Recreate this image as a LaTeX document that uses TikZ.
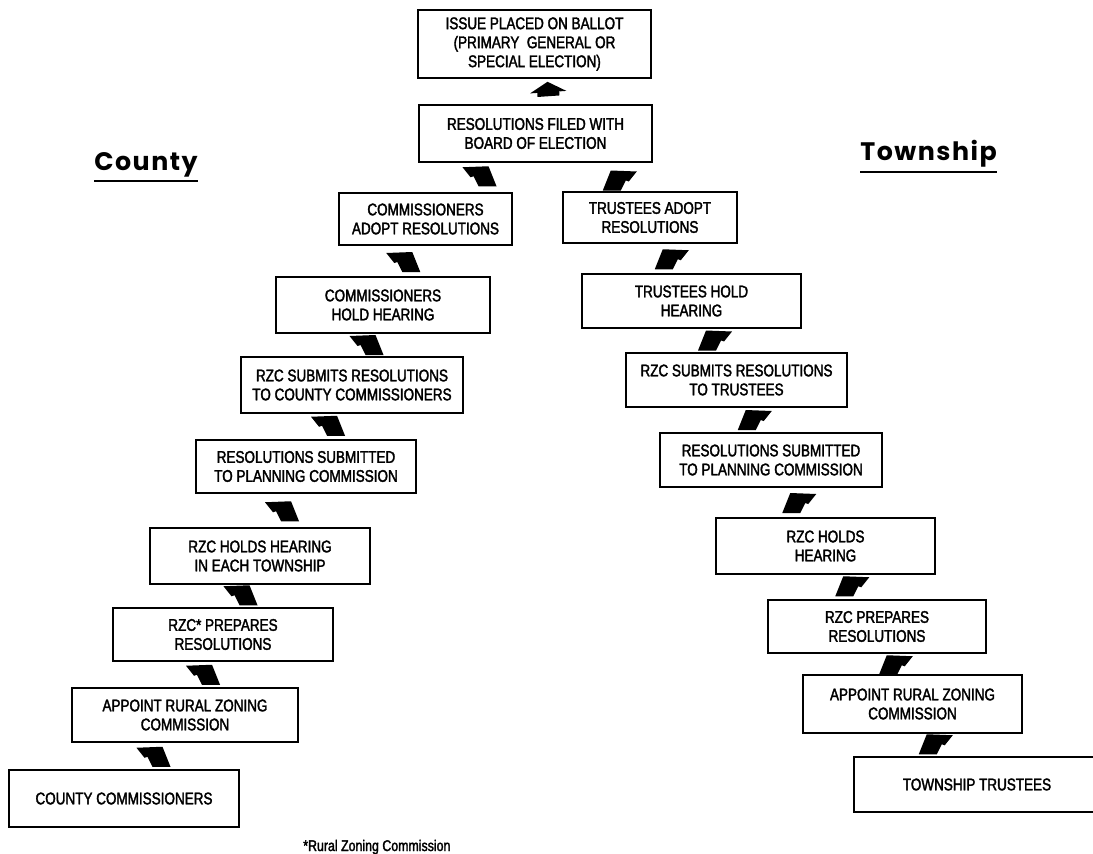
\documentclass[tikz,border=0pt]{standalone}
\usepackage{fontspec}
\newfontfamily\boxfont{Liberation Sans}[FakeStretch=0.8,FakeBold=2]
\newfontfamily\headfont{Poppins}[LetterSpace=6]
\usetikzlibrary{calc,arrows.meta}
\tikzset{
  twedge/.pic={\fill (-16,10) -- (-8,-10) -- (18,-9) -- (10,1) -- (7,0) -- (2,10) -- cycle;},
  cwedge/.pic={\fill (16,10) -- (8,-10) -- (-18,-9) -- (-10,1) -- (-7,0) -- (-2,10) -- cycle;}
}
\begin{document}
\begin{tikzpicture}[x=0.025cm,y=-0.025cm,
    stage/.style={draw,line width=1.1pt,align=center,inner sep=2pt,
      font=\boxfont\fontsize{12}{13.5}\selectfont},
    title/.style={anchor=base west,inner sep=0pt,
      font=\headfont\bfseries\fontsize{18}{20}\selectfont},
    rule/.style={line width=1.2pt},
    ballotarrow/.style={line width=0.55cm,-{Triangle[width=0.9cm,length=0.26cm]}}]
  \useasboundingbox (0,0) rectangle (1093,854);
  \draw[every node/.style=stage]
    (534.5,44) node[minimum width=5.825cm,minimum height=1.7cm] (ballot){ISSUE PLACED ON BALLOT\\(PRIMARY\ \ GENERAL OR\\SPECIAL ELECTION)}
    (535.5,133.5) node[minimum width=5.825cm,minimum height=1.425cm] (filed){RESOLUTIONS FILED WITH\\BOARD OF ELECTION}
    (124,798.5) node[minimum width=5.75cm,minimum height=1.425cm] (c1){COUNTY COMMISSIONERS}
    (185,715) node[minimum width=5.65cm,minimum height=1.35cm] (c2){APPOINT RURAL ZONING\\COMMISSION}
    (223,634.5) node[minimum width=5.5cm,minimum height=1.325cm] (c3){RZC* PREPARES\\RESOLUTIONS}
    (260,556) node[minimum width=5.5cm,minimum height=1.4cm] (c4){RZC HOLDS HEARING\\IN EACH TOWNSHIP}
    (306,466.5) node[minimum width=5.5cm,minimum height=1.325cm] (c5){RESOLUTIONS SUBMITTED\\TO PLANNING COMMISSION}
    (352,385) node[minimum width=5.55cm,minimum height=1.4cm] (c6){RZC SUBMITS RESOLUTIONS\\TO COUNTY COMMISSIONERS}
    (383,305) node[minimum width=5.35cm,minimum height=1.4cm] (c7){COMMISSIONERS\\HOLD HEARING}
    (425.5,219) node[minimum width=4.325cm,minimum height=1.3cm] (c8){COMMISSIONERS\\ADOPT RESOLUTIONS}
    (977,784.5) node[minimum width=6.15cm,minimum height=1.375cm] (t1){TOWNSHIP TRUSTEES}
    (912.5,704) node[minimum width=5.475cm,minimum height=1.45cm] (t2){APPOINT RURAL ZONING\\COMMISSION}
    (877,626.5) node[minimum width=5.45cm,minimum height=1.325cm] (t3){RZC PREPARES\\RESOLUTIONS}
    (825.5,546) node[minimum width=5.475cm,minimum height=1.4cm] (t4){RZC HOLDS\\HEARING}
    (771,460) node[minimum width=5.55cm,minimum height=1.35cm] (t5){RESOLUTIONS SUBMITTED\\TO PLANNING COMMISSION}
    (736.5,380) node[minimum width=5.525cm,minimum height=1.35cm] (t6){RZC SUBMITS RESOLUTIONS\\TO TRUSTEES}
    (691.5,301) node[minimum width=5.475cm,minimum height=1.35cm] (t7){TRUSTEES HOLD\\HEARING}
    (650,217.5) node[minimum width=4.35cm,minimum height=1.275cm] (t8){TRUSTEES ADOPT\\RESOLUTIONS};
  \node[title] (county) at (94,170) {County};
  \node[title] (township) at (860,160) {Township};
  \draw[rule] ($(county.base west)+(0,11)$) -- ($(county.base east)+(0,11)$);
  \draw[rule] ($(township.base west)+(0,12)$) -- ($(township.base east)+(0,12)$);
  \node[anchor=base west,inner sep=0pt,font=\boxfont\fontsize{11}{12}\selectfont] (note) at (303,851) {*Rural Zoning Commission};
  \begin{scope}
    \draw[ballotarrow] ($(filed.north)+(13,-8)$) -- ($(ballot.south)+(13,3)$);
    \pic at ($(c1)!.5!(c2)$) {cwedge};
    \pic at ($(c2)!.5!(c3)$) {cwedge};
    \pic at ($(c3)!.5!(c4)$) {cwedge};
    \pic at ($(c4)!.5!(c5)$) {cwedge};
    \pic at ($(c5)!.5!(c6)$) {cwedge};
    \pic at ($(c6)!.5!(c7)$) {cwedge};
    \pic at ($(c7)!.5!(c8)$) {cwedge};
    \pic at ($(c8)!.5!(filed)$) {cwedge};
    \pic at ($(t1)!.5!(t2)+(-10,0)$) {twedge};
    \pic at ($(t2)!.5!(t3)$) {twedge};
    \pic at ($(t3)!.5!(t4)$) {twedge};
    \pic at ($(t4)!.5!(t5)$) {twedge};
    \pic at ($(t5)!.5!(t6)$) {twedge};
    \pic at ($(t6)!.5!(t7)$) {twedge};
    \pic at ($(t7)!.5!(t8)$) {twedge};
    \pic at ($(t8)!.5!(filed)+(26,5)$) {twedge};
  \end{scope}
\end{tikzpicture}
\end{document}
